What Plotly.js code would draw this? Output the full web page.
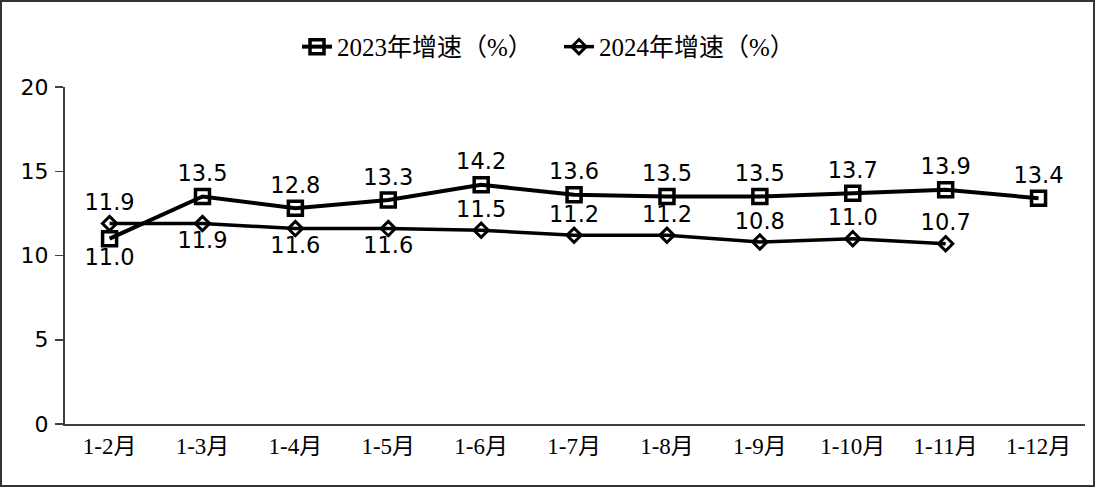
<!DOCTYPE html>
<html>
<head>
<meta charset="utf-8">
<script src="https://cdn.plot.ly/plotly-3.0.1.min.js"></script>
<style>html,body{margin:0;padding:0;background:#fff;}#chart{width:1096px;height:488px;}</style>
</head>
<body>
<div id="chart"></div>
<script>
const categories = ["1-2月","1-3月","1-4月","1-5月","1-6月","1-7月","1-8月","1-9月","1-10月","1-11月","1-12月"];
const growth2023 = [11.0,13.5,12.8,13.3,14.2,13.6,13.5,13.5,13.7,13.9,13.4];
const growth2024 = [11.9,11.9,11.6,11.6,11.5,11.2,11.2,10.8,11.0,10.7];
const name2023 = "2023年增速（%）";
const name2024 = "2024年增速（%）";
const yTicks = [0,5,10,15,20];

const pos2023 = growth2023.map((v,i)=> i===0 ? "bottom center" : "top center");
const pos2024 = growth2024.map((v,i)=> (i>=1 && i<=3) ? "bottom center" : "top center");
const labelFont = {family:"DejaVu Sans, Verdana, sans-serif", size:22.5, color:"#000"};
const serif = "Liberation Serif, 'Noto Sans CJK SC', serif";

const traces = [
  {x:categories, y:growth2023, name:name2023, type:"scatter", mode:"lines+markers+text",
   text:growth2023.map(v=>v.toFixed(1)), textposition:pos2023, textfont:labelFont,
   line:{color:"#000", width:4},
   marker:{symbol:"square-open", size:14, color:"#000", line:{width:3.5, color:"#000"}},
   cliponaxis:false},
  {x:categories.slice(0,growth2024.length), y:growth2024, name:name2024, type:"scatter", mode:"lines+markers+text",
   text:growth2024.map(v=>v.toFixed(1)), textposition:pos2024, textfont:labelFont,
   line:{color:"#000", width:3.5},
   marker:{symbol:"diamond-open", size:11, color:"#000", line:{width:3, color:"#000"}},
   cliponaxis:false}
];

const layout = {
  width:1096, height:488,
  margin:{l:65, r:11, t:87, b:64},
  paper_bgcolor:"#fff", plot_bgcolor:"#fff",
  showlegend:true,
  legend:{orientation:"h", x:(297-65)/1020, xanchor:"left", y:1.119, yanchor:"middle",
          entrywidth:217, entrywidthmode:"pixels",
          font:{family:serif, size:25, color:"#000"}, itemwidth:30, tracegroupgap:0},
  xaxis:{type:"category", range:[-0.48, 10.5], showgrid:false, zeroline:false,
         showline:true, linecolor:"#404040", linewidth:2, ticks:"",
         tickfont:{family:serif, size:23, color:"#000"}, fixedrange:true},
  yaxis:{range:[0,20], tickvals:yTicks, ticktext:yTicks.map(String), showgrid:false, zeroline:false,
         showline:true, linecolor:"#404040", linewidth:2, ticks:"outside", ticklen:8, tickcolor:"#404040", tickwidth:1.5,
         tickfont:{family:"DejaVu Sans, Verdana, sans-serif", size:22, color:"#000"}, ticklabelstandoff:2},
  shapes:[{type:"rect", xref:"paper", yref:"paper",
           x0:(1-65)/1020, x1:(1094-65)/1020, y0:(424-486)/337, y1:(424-1)/337,
           line:{color:"#333", width:2}, fillcolor:"rgba(0,0,0,0)", layer:"above"}]
};

Plotly.newPlot("chart", traces, layout, {displayModeBar:false, staticPlot:true});
</script>
</body>
</html>
